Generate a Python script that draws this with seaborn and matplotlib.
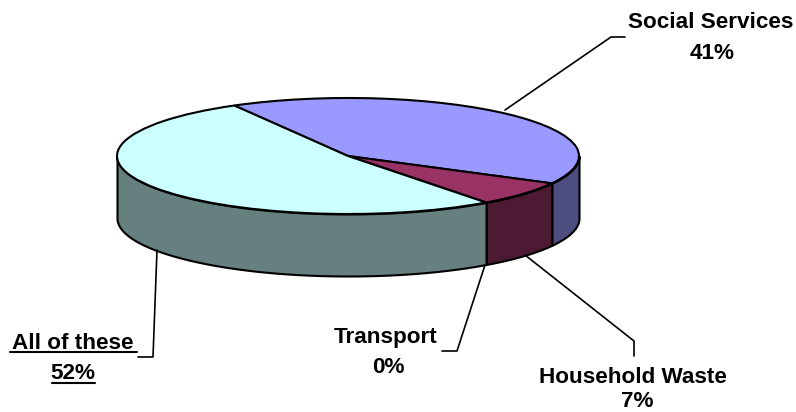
import numpy as np
import matplotlib
matplotlib.use("Agg")
import matplotlib.pyplot as plt
from matplotlib.transforms import Affine2D
import seaborn as sns

categories = ["Social Services", "Household Waste", "Transport", "All of these"]
shares = [41, 7, 0, 52]
top_colors = ["#9999FF", "#993366", "#FFFFFF", "#CCFFFF"]
side_colors = ["#4D4D80", "#4D1A33", "#808080", "#668080"]

sns.set_theme(style="white")
plt.rcParams["font.family"] = ["Liberation Sans", "DejaVu Sans"]

W, H = 796, 412
CX, CY, RX, RY = 348, 156, 231, 58
DEPTH = 62 / RY
START = 119.5

fig, ax = plt.subplots(figsize=(W / 100, H / 100), dpi=100)
fig.subplots_adjust(0, 0, 1, 1)

# side wall first, only the front half of the disc can be seen
edges = START - np.cumsum([0] + shares) * 3.6
for i in range(len(shares)):
    hi, lo = min(edges[i], 0), max(edges[i + 1], -180)
    if hi <= lo:
        continue
    a = np.radians(np.linspace(lo, hi, 120))
    ax.fill_between(np.cos(a), np.sin(a), np.sin(a) - DEPTH, facecolor=side_colors[i],
                    edgecolor="black", linewidth=1.5, zorder=1)

wedges, _ = ax.pie(shares, colors=top_colors, startangle=START, counterclock=False,
                   wedgeprops=dict(edgecolor="black", linewidth=1.5, zorder=2))
ax.set_aspect("auto")
ax.set_xlim(-CX / RX, (W - CX) / RX)
ax.set_ylim(-(H - CY) / RY, CY / RY)
ax.axis("off")

# labels and leader lines are placed in image pixels
px = Affine2D().scale(1, -1).translate(0, H)
leaders = [
    ([505, 611, 625], [110, 37, 37]),
    ([525, 634, 634], [255, 341, 356]),
    ([485, 457, 442], [265, 351, 351]),
    ([157, 153, 138], [250, 357, 357]),
]
for xs, ys in leaders:
    ax.plot(xs, ys, color="black", lw=1.2, transform=px, clip_on=False, zorder=3)

# x centre, baseline y
name_pos = [(711, 28), (633, 383), (386, 343), (73, 349)]
pct_pos = [(712, 59), (637, 407), (388, 373), (73, 379)]
for name, val, p, q in zip(categories, shares, name_pos, pct_pos):
    ax.text(p[0], p[1], name, transform=px, ha="center", va="baseline", fontsize=16.2, fontweight="bold", color="black")
    ax.text(q[0], q[1], f"{val}%", transform=px, ha="center", va="baseline", fontsize=16.2, fontweight="bold", color="black")

# underline on the biggest slice label
ax.plot([10, 137], [352, 352], color="black", lw=1.5, transform=px)
ax.plot([52, 95], [383, 383], color="black", lw=1.5, transform=px)

fig.savefig("out.png", dpi=100)
